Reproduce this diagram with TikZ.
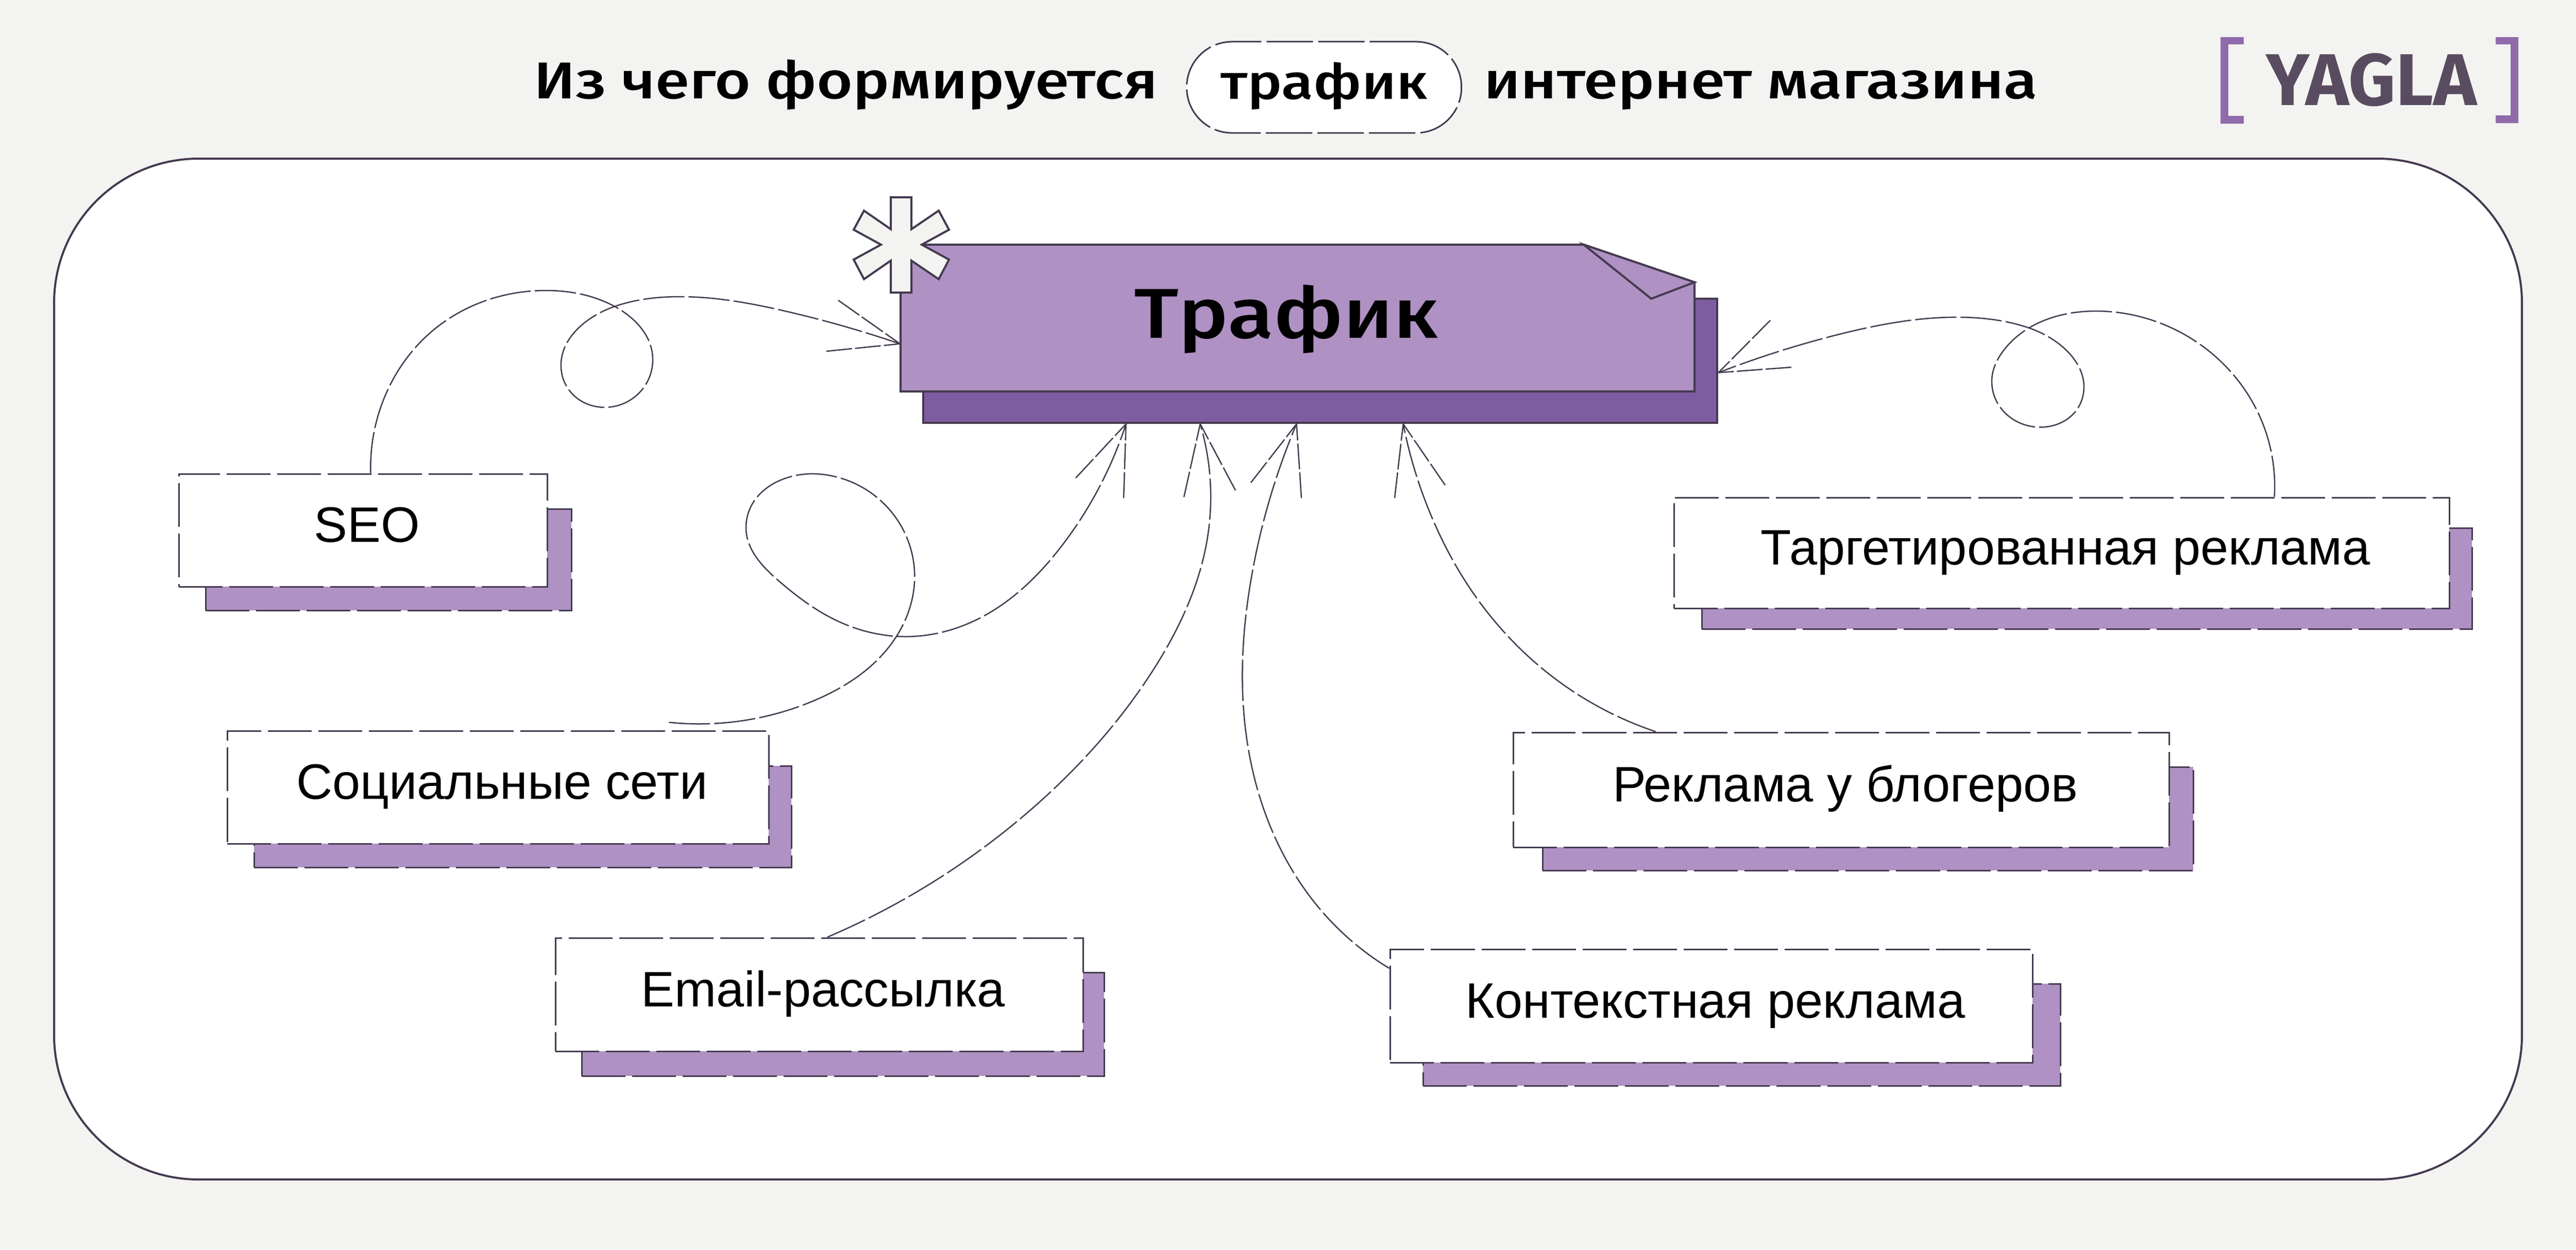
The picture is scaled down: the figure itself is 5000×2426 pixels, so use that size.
\documentclass[tikz,border=0pt]{standalone}
\usepackage{fontspec}
\usepackage{xcolor}
\usetikzlibrary{calc,hobby}
\newfontfamily\titlefont[FakeStretch=1.19]{Fira Sans Medium}
\newfontfamily\labelfont[FakeStretch=1.005]{Liberation Sans}
\newfontfamily\logofont{Fira Sans Bold}
\definecolor{pagegray}{HTML}{F3F3F1}
\definecolor{inkdark}{HTML}{453A50}
\definecolor{lilac}{HTML}{AF91C3}
\definecolor{violet}{HTML}{7E5CA1}
\definecolor{logoink}{HTML}{5A4C60}
\definecolor{logoviolet}{HTML}{8F6BAB}
\tikzset{
 x=0.01cm, y=-0.01cm,
 boxedge/.style={draw=inkdark, line width=0.03cm, dash pattern=on 0.85cm off 0.13cm},
 itembox/.style={boxedge, fill=white, inner sep=0pt, font=\labelfont\fontsize{27.5}{33}\selectfont, text height=0.64cm, text depth=0.18cm},
 itemback/.style={boxedge, fill=lilac, inner sep=0pt},
 link/.style={draw=inkdark, line width=0.025cm, dash pattern=on 0.8cm off 0.08cm},
 barb/.style={draw=inkdark, line width=0.025cm, dash pattern=on 0.5cm off 0.06cm},
 solidedge/.style={draw=inkdark, line width=0.04cm},
 titletext/.style={inner sep=0pt, anchor=base west, font=\titlefont\fontsize{28.6}{34}\selectfont},
}
\begin{document}
\begin{tikzpicture}
    \useasboundingbox (0,0) rectangle (5000,2426);
    \fill[pagegray] (0,0) rectangle (5000,2426);
    \draw[solidedge, fill=white, rounded corners=2.8cm] (105,308) rectangle (4895,2290);

    \node[titletext] (titleleft) at (1036,191) {Из чего формируется};
    \node[draw=inkdark, line width=0.03cm, dash pattern=on 0.9cm off 0.1cm, fill=white, rounded corners=0.88cm,
        minimum width=5.33cm, minimum height=1.77cm, inner sep=0pt,
        font=\titlefont\fontsize{27}{32}\selectfont, text height=0.68cm, text depth=0.22cm] (pill) at (2570,169.5) {трафик};
    \node[titletext] (titleright) at (2880,191) {интернет магазина};

    \fill[logoviolet] (4355,72) -- (4310,72) -- (4310,240) -- (4355,240) -- (4355,225) -- (4325,225) -- (4325,86) -- (4355,86) -- cycle;
    \fill[logoviolet] (4844,72) -- (4888,72) -- (4888,239) -- (4844,239) -- (4844,224) -- (4873,224) -- (4873,86) -- (4844,86) -- cycle;
    \node[inner sep=0pt, anchor=base, text=logoink, font=\logofont\fontsize{40.5}{48}\selectfont] (logo) at (4603,204) {YAGLA};

    \node[solidedge, fill=violet, minimum width=15.41cm, minimum height=2.41cm, inner sep=0pt] (back) at (2562.5,700.5) {};
    \draw[solidedge, fill=lilac] (1748,475) -- (3074,475) -- (3289,548) -- (3289,760) -- (1748,760) -- cycle;
    \draw[solidedge, fill=lilac] (3074,475) -- (3289,548) -- (3205,580) -- cycle;
    \node[minimum width=15.41cm, minimum height=2.85cm, inner sep=0pt, text height=1.17cm, text depth=0.4cm,
        font=\titlefont\fontsize{39}{47}\selectfont] (main) at (2518.5,617.5) {Трафик\hspace*{12.5pt}};
    \draw[solidedge, fill=pagegray] (1729,383) -- (1769,383) -- (1769,445) -- (1822,409) -- (1842,446) -- (1789,475)
        -- (1842,504) -- (1822,542) -- (1769,506) -- (1769,568) -- (1729,568) -- (1729,506) -- (1677,542)
        -- (1657,504) -- (1710,475) -- (1657,446) -- (1677,409) -- (1729,445) -- cycle;

    \foreach \name/\l/\t/\r/\b/\sl/\st/\sr/\sb/\txt in {
        seo/347/920/1062/1139/399/988/1109/1185/SEO,
        social/441/1419/1492/1638/493/1487/1536/1684/Социальные сети,
        email/1078/1821/2102/2041/1129/1888/2143/2089/Email-рассылка,
        target/3249/966/4754/1181/3303/1025/4798/1221/Таргетированная реклама,
        blog/2937/1422/4210/1645/2994/1489/4257/1690/Реклама у блогеров,
        context/2698/1843/3945/2063/2762/1910/3999/2108/Контекстная реклама} {
        \node[itemback, minimum width={(\sr-\sl)*0.01cm}, minimum height={(\sb-\st)*0.01cm}] (\name back) at ({(\sl+\sr)/2},{(\st+\sb)/2}) {};
        \node[itembox, minimum width={(\r-\l)*0.01cm}, minimum height={(\b-\t)*0.01cm}] (\name) at ({(\l+\r)/2},{(\t+\b)/2}) {\hspace*{4.5pt}\txt};
    }

    \coordinate (seoout) at ($(seo.north)+(15,0)$);
    \coordinate (socialout) at ($(social.north)+(332,-15)$);
    \coordinate (emailout) at ($(email.north)+(16,0)$);
    \coordinate (contextout) at ($(context.west)+(0,-73)$);
    \coordinate (blogout) at ($(blog.north)+(-360,0)$);
    \coordinate (targetout) at ($(target.north)+(413,0)$);
    \coordinate (seotip) at ($(main.west)+(0,50)$);
    \coordinate (socialtip) at ($(back.south west)+(396,0)$);
    \coordinate (emailtip) at ($(back.south west)+(540,0)$);
    \coordinate (contexttip) at ($(back.south west)+(727,0)$);
    \coordinate (blogtip) at ($(back.south west)+(934,0)$);
    \coordinate (targettip) at ($(back.east)+(0,23)$);

    \draw[link] (seoout) to[curve through={(749,765) .. (841,641) .. (1060,564) .. (1193,595) .. (1267,699) .. (1155,789) .. (1091,728) .. (1193,595) .. (1320,576) .. (1524,604)}] (seotip);
    \draw[link] (socialout) to[curve through={(1576,1362) .. (1741,1234) .. (1774,1097) .. (1596,921) .. (1448,1022) .. (1514,1130) .. (1616,1201) .. (1759,1236) .. (1900,1201) .. (2063,1057)}] (socialtip);
    \draw[link] (emailout) to[curve through={(1994,1578) .. (2235,1306) .. (2344,1042)}] (emailtip);
    \draw[link] (contextout) to[curve through={(2568,1772) .. (2424,1460) .. (2430,1115)}] (contexttip);
    \draw[link] (blogout) to[curve through={(3038,1332) .. (2855,1145) .. (2786,1020)}] (blogtip);
    \draw[link] (targetout) to[curve through={(4385,806) .. (4222,640) .. (4070,604) .. (3890,679) .. (3866,740) .. (3977,828) .. (4039,781) .. (3939,637) .. (3809,616) .. (3570,649)}] (targettip);

    \foreach \tip/\ax/\ay/\bx/\by in {seotip/1627/583/1604/682, socialtip/2088/928/2181/967, emailtip/2298/965/2398/952,
        contexttip/2428/937/2526/967, blogtip/2707/967/2805/942, targettip/3436/622/3477/713} {
        \coordinate (\tip a) at (\ax,\ay);
        \coordinate (\tip b) at (\bx,\by);
        \draw[barb] (\tip a) -- (\tip);
        \draw[barb] (\tip b) -- (\tip);
    }
\end{tikzpicture}
\end{document}
